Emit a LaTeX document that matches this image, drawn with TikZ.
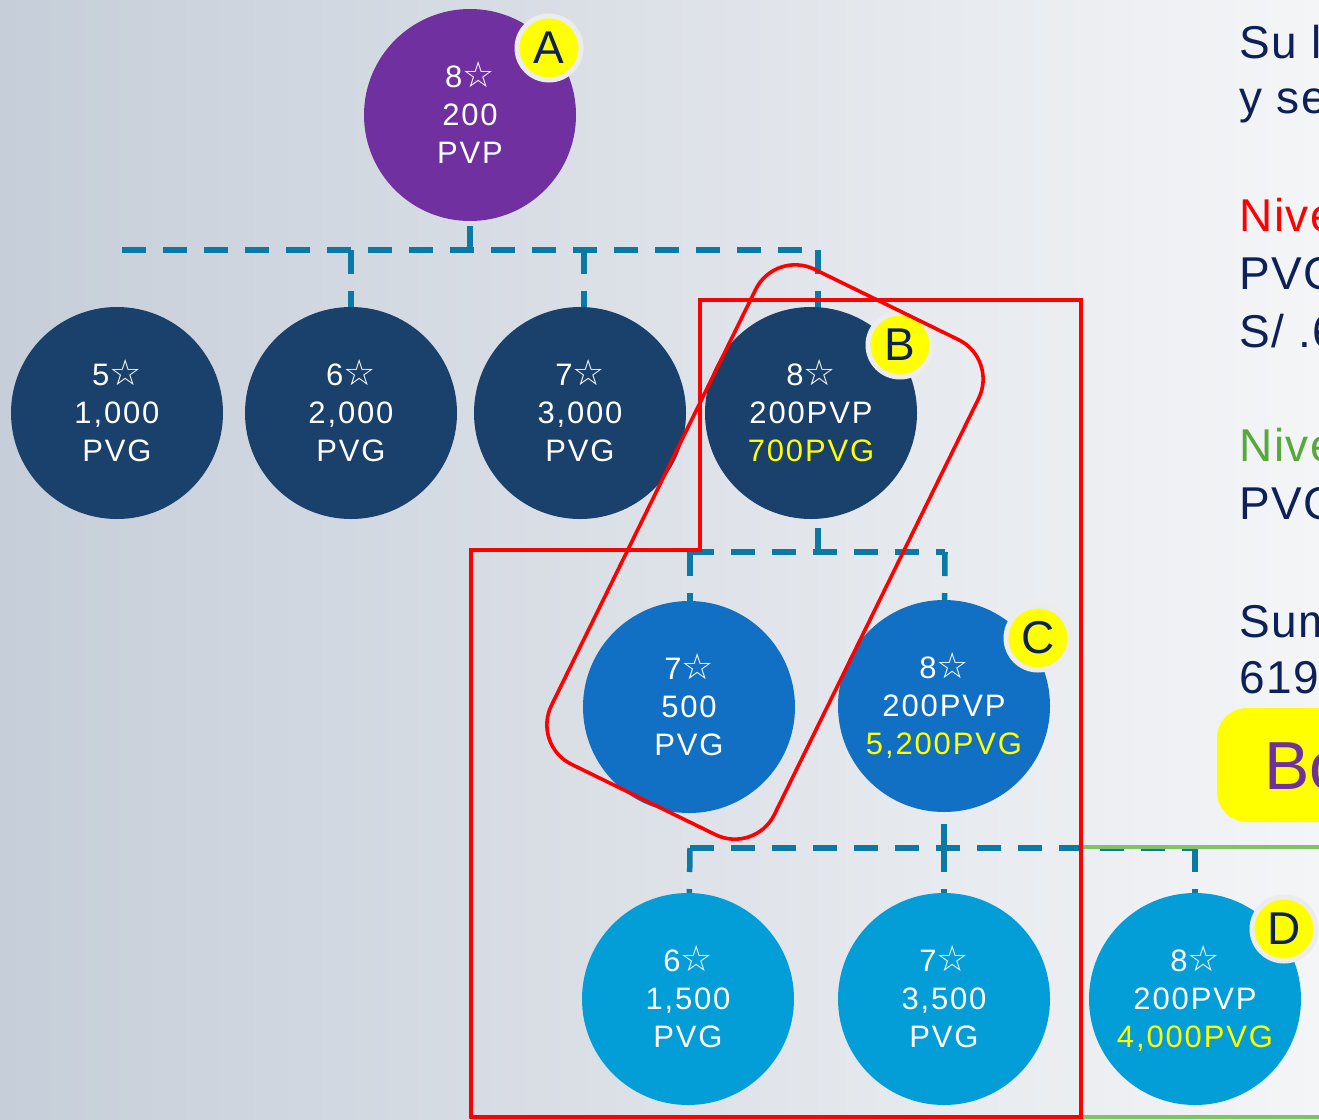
\documentclass[tikz,border=0pt]{standalone}
\usepackage{fontspec}
\setmainfont{Liberation Sans}
\newfontfamily\ls[LetterSpace=6]{Liberation Sans}
\newfontfamily\lsr[LetterSpace=3]{Liberation Sans}
\newfontfamily\djv{DejaVu Sans}
\definecolor{bgL}{HTML}{C6CED9}
\definecolor{bgR}{HTML}{F4F5F7}
\definecolor{purp}{HTML}{7030A0}
\definecolor{dnavy}{HTML}{1A406C}
\definecolor{mblue}{HTML}{1170C4}
\definecolor{lblue}{HTML}{039ED8}
\definecolor{conncol}{HTML}{0A79A6}
\definecolor{yel}{HTML}{FFFF00}
\definecolor{navy}{HTML}{0C2157}
\definecolor{ring}{HTML}{ECECEC}
\definecolor{redc}{HTML}{FF0000}
\definecolor{greent}{HTML}{58A83B}
\definecolor{greenl}{HTML}{7CC464}
\newcommand\stsym{{\djv\fontsize{36}{38}\selectfont ☆}}
\pgfdeclarelayer{bottomlayer}
\pgfdeclarelayer{connlayer}
\pgfsetlayers{bottomlayer,connlayer,main}
\begin{document}
\begin{tikzpicture}[x=1pt,y=-1pt,
  circ/.style={circle, minimum size=212pt, inner sep=0pt, text=white, align=center,
    text depth=6pt, font=\ls\fontsize{31}{38}\selectfont},
  badge/.style={circle, fill=yel, draw=ring, line width=5pt, minimum size=64pt, inner sep=0pt,
    text=navy, font=\fontsize{46}{46}\selectfont},
  conn/.style={draw=conncol, line width=5.5pt, dash pattern=on 24pt off 17pt},
  rtext/.style={anchor=base west, text=navy, font=\lsr\fontsize{46}{58}\selectfont},
  redline/.style={draw=redc, line width=3.6pt},
  greenline/.style={draw=greenl, line width=3.5pt}]
\useasboundingbox (0,0) rectangle (1319,1119);
\clip (0,0) rectangle (1319,1119);
\begin{pgfonlayer}{bottomlayer}
\shade[left color=bgL, right color=bgR] (0,0) rectangle (1319,1119);
\end{pgfonlayer}

% junction coordinates
\coordinate (h1) at (470,250);
\coordinate (h1l) at (122,250);
\coordinate (h1r) at (818,250);
\coordinate (d2) at (351,250);
\coordinate (d3) at (584,250);
\coordinate (h2) at (818,552);
\coordinate (h2l) at (690,552);
\coordinate (h2r) at (945,552);
\coordinate (h3) at (944,848);
\coordinate (h3l) at (690,848);
\coordinate (h3r) at (1195,848);

% nodes
\node[circ, fill=purp] (A) at (470,115) {8\stsym\\200\\PVP};
\node[circ, fill=dnavy] (n5) at (117,413) {5\stsym\\1,000\\PVG};
\node[circ, fill=dnavy] (n6) at (351,413) {6\stsym\\2,000\\PVG};
\node[circ, fill=dnavy] (n7) at (580,413) {7\stsym\\3,000\\PVG};
\node[circ, fill=dnavy] (B) at (811,413) {8\stsym\\200PVP\\\textcolor{yel}{700PVG}};
\node[circ, fill=mblue] (m7) at (689,707) {7\stsym\\500\\PVG};
\node[circ, fill=mblue] (C) at (944,706) {8\stsym\\200PVP\\\textcolor{yel}{5,200PVG}};
\node[circ, fill=lblue] (l6) at (688,999) {6\stsym\\1,500\\PVG};
\node[circ, fill=lblue] (l7) at (944,999) {7\stsym\\3,500\\PVG};
\node[circ, fill=lblue] (D) at (1195,999) {8\stsym\\200PVP\\\textcolor{yel}{4,000PVG}};

% connectors (behind circles)
\begin{pgfonlayer}{connlayer}
\draw[conn] (h1l) -- (h1r);
\draw[conn] (h1) -- (A.center);
\draw[conn] (d2) -- (n6.center);
\draw[conn] (d3) -- (d3 |- n7.center);
\draw[conn] (h1r) -- (h1r |- B.center);
\draw[conn] (h2l) -- (h2r);
\draw[conn] (h2) -- (h2 |- B.center);
\draw[conn] (h2l) -- (h2l |- m7.center);
\draw[conn] (h2r) -- (C.center);
\draw[conn] (h3l) -- (h3r);
\draw[conn] (h3) -- (C.center);
\draw[conn] (h3l) -- (l6.center);
\draw[conn] (h3) -- (l7.center);
\draw[conn] (h3r) -- (D.center);
\end{pgfonlayer}

% badges
\node[badge] (bA) at (549,48) {A};
\node[badge] (bB) at (900,345) {B};
\node[badge] (bC) at (1038,638) {C};
\node[badge] (bD) at (1284,929) {D};

% green frame
\draw[greenline] (1082,847) -- (1330,847);
\draw[greenline] (1082,1117) -- (1330,1117);

% red frames
\draw[redline] (700,300) -- (1081,300) -- (1081,1117) -- (471,1117) -- (471,550) -- (700,550) -- cycle;
\draw[redline, rounded corners=44pt] (775,250) -- (998,359) -- (755,854) -- (532,745) -- cycle;

% right text
\node[rtext] (t1) at (1236,58) {Su l};
\node[rtext] (t2) at (1236,113) {y se};
\node[rtext, text=redc] (t3) at (1236,231) {Nive};
\node[rtext] (t4) at (1236,289) {PVG};
\node[rtext] (t5) at (1236,347) {S/ .6};
\node[rtext, text=greent] (t6) at (1236,461) {Nive};
\node[rtext] (t7) at (1236,519) {PVG};
\node[rtext] (t8) at (1236,637) {Sum};
\node[rtext] (t9) at (1236,693) {619.};
\fill[yel, rounded corners=30pt] (1217,708) rectangle (1360,822);
\node[anchor=base west, text=purp, font=\fontsize{68}{68}\selectfont] (bo) at (1261,789) {Bo};
\end{tikzpicture}
\end{document}
